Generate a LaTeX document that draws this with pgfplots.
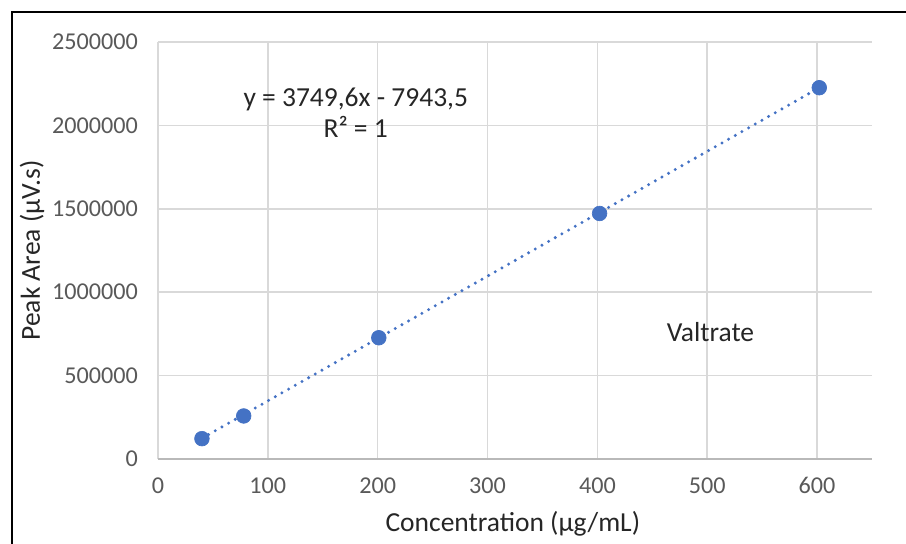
\documentclass[border=0pt]{standalone}
\usepackage{pgfplots}
\pgfplotsset{compat=1.18}
\usepackage{fontspec}
\setmainfont{Carlito}
\definecolor{xlblue}{HTML}{4472C4}
\definecolor{ticktxt}{HTML}{595959}
\definecolor{gridc}{HTML}{D9D9D9}
\begin{document}
\begin{tikzpicture}[x=0.6pt,y=0.6pt]
\useasboundingbox (0,0) rectangle (906,544);
\begin{scope}
\clip (0,0) rectangle (906,544);
\draw[line width=1.3pt] (12,-5) -- (12,532) -- (920,532);
\end{scope}
\begin{axis}[
    at={(158*0.6pt,85*0.6pt)}, anchor=origin,
    scale only axis,
    width=428.4pt, height=250.2pt,
    xmin=0, xmax=650,
    ymin=0, ymax=2500000,
    xtick={0,100,...,600},
    ytick={0,500000,...,2500000},
    scaled y ticks=false,
    /pgf/number format/assume math mode=true,
    yticklabel style={/pgf/number format/fixed, /pgf/number format/1000 sep={}},
    xticklabel style={/pgf/number format/1000 sep={}},
    tick label style={font=\fontsize{14.5}{17}\selectfont, text=ticktxt},
    xtick style={draw=none}, ytick style={draw=none},
    xticklabel shift=7.5pt, yticklabel shift=8.6pt,
    grid=major,
    grid style={gridc, line width=0.9pt},
    axis line style={draw=none},
    xlabel={Concentration (µg/mL)},
    ylabel={Peak Area (µV.s)},
    label style={font=\fontsize{16.5}{19}\selectfont, text=black!85},
    xlabel style={at={(axis description cs:0.497,0)}, anchor=center, yshift=-39pt},
    ylabel style={at={(axis description cs:-0.1765,0.5)}, anchor=center, rotate=0},
    clip=false,
]
\draw[gray!55, line width=0.9pt] (axis cs:0,0) -- (axis cs:650,0);
% trendline
\addplot[xlblue, line width=2pt, dash pattern=on 0pt off 4.6pt, line cap=round] coordinates {
    (40,124000) (602,2226000)
};
\addplot[only marks, mark=*, mark size=4.4pt, xlblue, mark options={draw=xlblue, fill=xlblue}] coordinates {
    (40,122000) (78,258000) (201,727000) (402,1472000) (602,2226000)
};
\node[font=\fontsize{16.5}{18.6}\selectfont, text=black!85, align=center] at (axis cs:180,2077000) {y = 3749,6x - 7943,5\\R² = 1};
\node[font=\fontsize{16.5}{19}\selectfont, text=black!85] at (axis cs:503,761000) {Valtrate};
\end{axis}
\end{tikzpicture}
\end{document}
